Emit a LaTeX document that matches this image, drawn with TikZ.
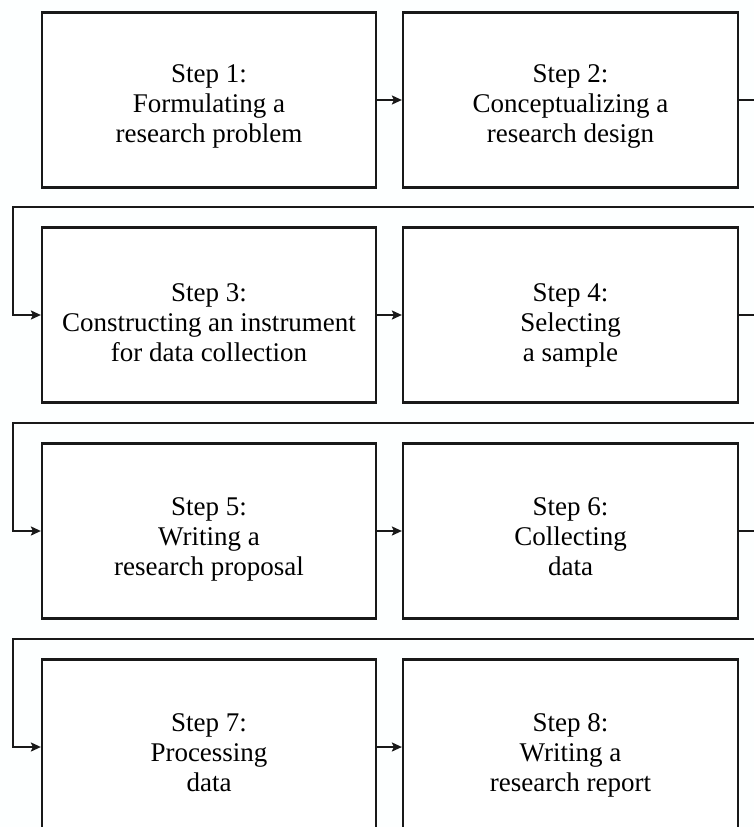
\documentclass[tikz,border=0pt]{standalone}
\usepackage{fontspec}
\setmainfont{Liberation Serif}
\usetikzlibrary{arrows.meta}
\begin{document}
\begin{tikzpicture}[x=1pt,y=-1pt,
  stepbox/.style={draw=black!90, line width=2.2pt, fill=white,
    minimum height=175, inner sep=0pt},
  leftbox/.style={stepbox, minimum width=334},
  rightbox/.style={stepbox, minimum width=335},
  steptext/.style={align=center, inner sep=0pt,
    font=\fontsize{27}{30}\selectfont},
  link/.style={draw=black!90, line width=2.2pt,
    -{Stealth[length=10pt,width=9pt,inset=2pt]}}]
  \fill[white!98!cyan!30!white] (0,0) rectangle (754,827);
  \clip (0,0) rectangle (754,827);

  % the eight step boxes, two per row
  \node[leftbox]  (s1) at (209,100)   {};
  \node[rightbox] (s2) at (570.5,100) {};
  \node[leftbox]  (s3) at (209,315)   {};
  \node[rightbox] (s4) at (570.5,315) {};
  \node[leftbox]  (s5) at (209,531)   {};
  \node[rightbox] (s6) at (570.5,531) {};
  \node[leftbox]  (s7) at (209,747)   {};
  \node[rightbox] (s8) at (570.5,747) {};

  % their texts, set a little below the box centres
  \node[steptext] (t1) at ([yshift=-6pt]s1.center) {Step 1:\\Formulating a\\research problem};
  \node[steptext] (t2) at ([yshift=-6pt]s2.center) {Step 2:\\Conceptualizing a\\research design};
  \node[steptext] (t3) at ([yshift=-8pt]s3.center) {Step 3:\\Constructing an instrument\\for data collection};
  \node[steptext] (t4) at ([yshift=-10pt]s4.center) {Step 4:\\Selecting\\a sample};
  \node[steptext] (t5) at ([yshift=-8pt]s5.center) {Step 5:\\Writing a\\research proposal};
  \node[steptext] (t6) at ([yshift=-6pt]s6.center) {Step 6:\\Collecting\\data};
  \node[steptext] (t7) at ([yshift=-6pt]s7.center) {Step 7:\\Processing\\data};
  \node[steptext] (t8) at ([yshift=-8pt]s8.center) {Step 8:\\Writing a\\research report};

  % turn points of the return lines between rows
  \coordinate (r1a) at (770,207);  \coordinate (r1b) at (13,207);
  \coordinate (r2a) at (770,423);  \coordinate (r2b) at (13,423);
  \coordinate (r3a) at (770,639);  \coordinate (r3b) at (13,639);

  % arrows within a row
  \draw[link] (s1.east) -- (s2.west);
  \draw[link] (s3.east) -- (s4.west);
  \draw[link] (s5.east) -- (s6.west);
  \draw[link] (s7.east) -- (s8.west);

  % arrows from the end of one row to the start of the next
  \draw[link] (s2.east) -| (r1a) -- (r1b) |- (s3.west);
  \draw[link] (s4.east) -| (r2a) -- (r2b) |- (s5.west);
  \draw[link] (s6.east) -| (r3a) -- (r3b) |- (s7.west);
\end{tikzpicture}
\end{document}
